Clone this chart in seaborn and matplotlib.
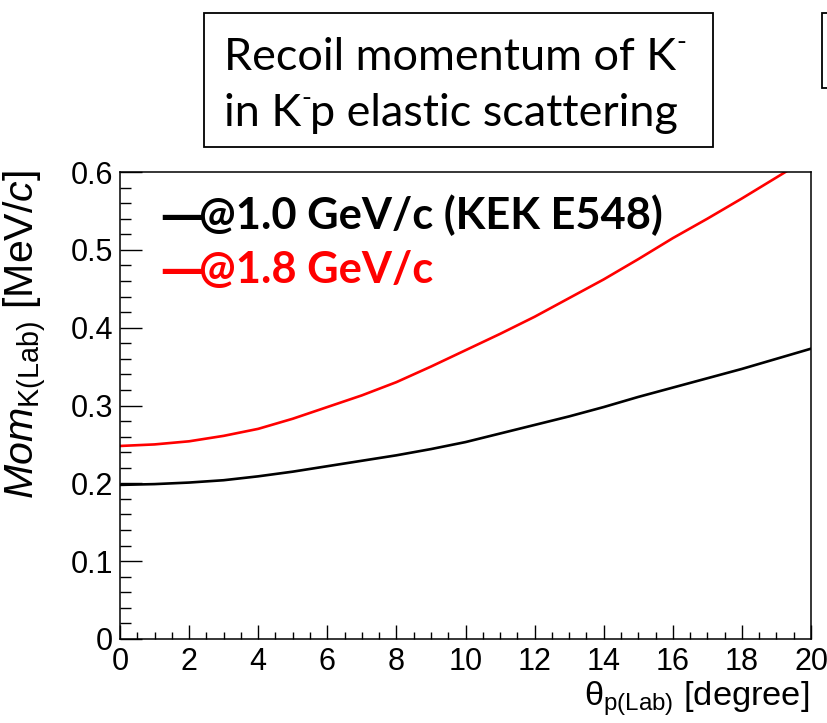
import numpy as np
import pandas as pd
import matplotlib
matplotlib.use("Agg")
import matplotlib.pyplot as plt
import seaborn as sns
from matplotlib.patches import Rectangle
from matplotlib.ticker import MultipleLocator

# ---- data ----
theta_deg = list(range(0, 21))
mom_1p0 = [0.198, 0.199, 0.201, 0.204, 0.209, 0.215, 0.222, 0.229, 0.236, 0.244,
           0.253, 0.264, 0.275, 0.286, 0.298, 0.311, 0.323, 0.335, 0.347, 0.360, 0.373]
mom_1p8 = [0.248, 0.250, 0.254, 0.261, 0.270, 0.283, 0.298, 0.313, 0.330, 0.350,
           0.371, 0.392, 0.414, 0.438, 0.462, 0.488, 0.515, 0.540, 0.566, 0.593, 0.620]
series_names = ["@1.0 GeV/c (KEK E548)", "@1.8 GeV/c"]
series_colors = ["black", "red"]
title_line1 = ["Recoil momentum of K", "-", ""]
title_line2 = ["in K", "-", "p elastic scattering"]
x_ticks = [0, 2, 4, 6, 8, 10, 12, 14, 16, 18, 20]
y_ticks = [0, 0.1, 0.2, 0.3, 0.4, 0.5, 0.6]
y_tick_labels = ["0", "0.1", "0.2", "0.3", "0.4", "0.5", "0.6"]

df = pd.DataFrame({
    "theta": theta_deg * 2,
    "mom": mom_1p0 + mom_1p8,
    "series": [series_names[0]] * len(theta_deg) + [series_names[1]] * len(theta_deg),
})

sns.set_theme(style="ticks")
plt.rcParams['font.family'] = ['Liberation Sans', 'DejaVu Sans']
plt.rcParams['mathtext.fontset'] = 'custom'
plt.rcParams['mathtext.rm'] = 'Liberation Sans'
plt.rcParams['mathtext.it'] = 'Liberation Sans:italic'
plt.rcParams['mathtext.bf'] = 'Liberation Sans:bold'

W, H = 827, 723
fig = plt.figure(figsize=(W / 100, H / 100), dpi=100)
fig.patch.set_facecolor("white")

def fx(px):
    return px / W

def fy(py):
    return 1 - py / H

ax_l, ax_r, ax_t, ax_b = 120, 811, 172, 639
ax = fig.add_axes([fx(ax_l), fy(ax_b), fx(ax_r - ax_l), (ax_b - ax_t) / H])

sns.lineplot(data=df, x="theta", y="mom", hue="series",
             palette=dict(zip(series_names, series_colors)),
             legend=False, ax=ax, linewidth=1.9, estimator=None, sort=True)

ax.set_xlim(0, 20)
ax.set_ylim(0, 0.6)
ax.set_xticks(x_ticks)
ax.set_xticklabels([str(t) for t in x_ticks])
ax.set_yticks(y_ticks)
ax.set_yticklabels(y_tick_labels)
ax.xaxis.set_minor_locator(MultipleLocator(0.5))
ax.yaxis.set_minor_locator(MultipleLocator(0.02))
ax.tick_params(axis="both", which="both", direction="in", colors="black",
               top=False, right=False, labelsize=22, width=1.0)
ax.tick_params(axis="y", which="major", length=16, pad=5)
ax.tick_params(axis="y", which="minor", length=8)
ax.tick_params(axis="x", which="major", length=10, pad=6)
ax.tick_params(axis="x", which="minor", length=5)
for s in ax.spines.values():
    s.set_visible(True)
    s.set_color("black")
    s.set_linewidth(1.1)
ax.set_xlabel("")
ax.set_ylabel("")
ax.set_facecolor("white")

# axis titles
ylab = fig.text(fx(26), fy(170), r"$\mathit{Mom}_{\mathrm{K(Lab)}}$ [MeV/$\mathit{c}$]",
                rotation=90, ha="center", va="top", fontsize=24, color="black")
xlab = fig.text(fx(809), fy(706), r"$\mathrm{\theta}_{\mathrm{p(Lab)}}$ [degree]",
                ha="right", va="baseline", fontsize=24, color="black")

# title box
fig.patches.append(Rectangle((fx(204), fy(147)), fx(713 - 204), (147 - 13) / H,
                             transform=fig.transFigure, facecolor="white",
                             edgecolor="black", linewidth=1.3))
fig.patches.append(Rectangle((fx(822), fy(88)), fx(40), (88 - 13) / H,
                             transform=fig.transFigure, facecolor="white",
                             edgecolor="black", linewidth=1.3, clip_on=False))

tfont = ["Lato", "Open Sans", "DejaVu Sans"]
dfont = ["Open Sans", "DejaVu Sans"]
t1 = fig.text(fx(224), fy(70), title_line1[0], ha="left", va="baseline",
              fontsize=26, family=tfont, color="black")

# in-plot legend: dash + text per series
legend_baselines = [229, 283]
dashes, labels = [], []
for name, col, yb in zip(series_names, series_colors, legend_baselines):
    d = fig.text(fx(160), fy(yb), "\u2014", ha="left", va="baseline",
                 fontsize=26, fontweight="bold", family=dfont, color=col)
    t = fig.text(fx(199), fy(yb), name, ha="left", va="baseline",
                 fontsize=26, fontweight="bold", family=tfont, color=col)
    dashes.append(d)
    labels.append(t)

# fit text sizes to the reference extents
fig.canvas.draw()
r = fig.canvas.get_renderer()

def fit_w(t, target):
    w = t.get_window_extent(r).width
    t.set_fontsize(t.get_fontsize() * target / w)

def fit_h(t, target):
    h = t.get_window_extent(r).height
    t.set_fontsize(t.get_fontsize() * target / h)

fit_w(t1, 452)
fit_w(labels[0], 464)
labels[1].set_fontsize(labels[0].get_fontsize())
for d in dashes:
    d.set_fontsize(labels[0].get_fontsize())
fit_w(xlab, 226)
fit_h(ylab, 330)

fs = t1.get_fontsize()
fig.canvas.draw()

def right_px(t):
    return t.get_window_extent(r).x1

# superscript minus after "K" on line 1
sup1 = fig.text(right_px(t1) / W, fy(70 - fs * 0.62), title_line1[1],
                ha="left", va="baseline", fontsize=fs * 0.6, family=tfont, color="black")
# line 2: "in K" + superscript + "p elastic scattering"
t2a = fig.text(fx(224), fy(126), title_line2[0], ha="left", va="baseline",
               fontsize=fs, family=tfont, color="black")
fig.canvas.draw()
sup2 = fig.text(right_px(t2a) / W, fy(126 - fs * 0.62), title_line2[1],
                ha="left", va="baseline", fontsize=fs * 0.6, family=tfont, color="black")
fig.canvas.draw()
t2b = fig.text(right_px(sup2) / W - fx(1), fy(126), title_line2[2], ha="left",
               va="baseline", fontsize=fs, family=tfont, color="black")

fig.savefig("out.png", dpi=100, facecolor="white")
